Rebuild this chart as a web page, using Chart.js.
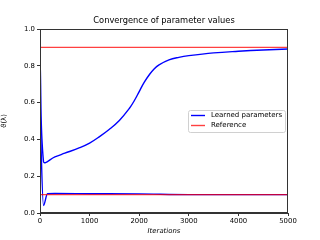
<!DOCTYPE html>
<html>
<head>
<meta charset="utf-8">
<script src="https://cdn.jsdelivr.net/npm/chart.js@4"></script>
<style>
  html, body { margin: 0; padding: 0; background: #fff; }
  #chart { display: block; }
</style>
</head>
<body>
<canvas id="chart" width="320" height="240"></canvas>
<script>
// values
const itersA = [0, 70, 300, 500, 800, 1000, 1200, 1400, 1600, 1800, 1900, 2000, 2100, 2200, 2300, 2400, 2600, 2800, 3000, 3500, 4000, 4500, 5000];
const learnedA = [0.85, 0.28, 0.305, 0.325, 0.355, 0.38, 0.415, 0.455, 0.503, 0.568, 0.61, 0.66, 0.71, 0.75, 0.783, 0.805, 0.832, 0.846, 0.855, 0.87, 0.879, 0.886, 0.891];
const itersB = [0, 70, 150, 300, 1000, 2000, 3000, 4000, 5000];
const learnedB = [0.55, 0.04, 0.105, 0.106, 0.105, 0.104, 0.1, 0.1, 0.1];
const refIters = [0, 5000];
const refHigh = [0.9, 0.9];
const refLow = [0.1, 0.1];
const xTicks = [0, 1000, 2000, 3000, 4000, 5000];
const yTicks = [0, 0.2, 0.4, 0.6, 0.8, 1.0];

const BLUE = '#0000ff';
const RED = 'rgba(255,0,0,0.75)';
const FONT = 'DejaVu Sans';

const pts = (xs, ys) => xs.map((x, i) => ({ x: x, y: ys[i] }));

const line = (label, data, color, order, smooth) => Object.assign({
  label: label,
  data: data,
  borderColor: color,
  borderWidth: 1.4,
  pointRadius: 0,
  fill: false,
  order: order
}, smooth ? { tension: 0.4 } : { cubicInterpolationMode: 'monotone' });

// title, box round the plot and matplotlib-style legend
const frame = {
  id: 'frame',
  afterDraw(chart) {
    const { ctx, chartArea: a } = chart;
    ctx.save();
    ctx.strokeStyle = '#333';
    ctx.lineWidth = 1;
    ctx.strokeRect(a.left + 0.5, a.top + 0.5, a.right - a.left - 1, a.bottom - a.top - 1);

    ctx.fillStyle = '#000';
    ctx.font = '8.3px "' + FONT + '"';
    ctx.textAlign = 'center';
    ctx.textBaseline = 'middle';
    ctx.fillText('Convergence of parameter values', (a.left + a.right) / 2, 21);

    const bx = 188, by = 110, bw = 97, bh = 22;
    ctx.fillStyle = 'rgba(255,255,255,0.8)';
    ctx.strokeStyle = '#d0d0d0';
    ctx.beginPath();
    ctx.roundRect(bx + 0.5, by + 0.5, bw, bh, 2);
    ctx.fill();
    ctx.stroke();

    ctx.font = '7px "' + FONT + '"';
    ctx.textAlign = 'left';
    ctx.fillStyle = '#000';
    [['Learned parameters', BLUE, 115.5], ['Reference', RED, 125.5]].forEach(([t, c, y]) => {
      ctx.strokeStyle = c;
      ctx.lineWidth = 1.4;
      ctx.beginPath();
      ctx.moveTo(191, y);
      ctx.lineTo(205, y);
      ctx.stroke();
      ctx.fillText(t, 211, y);
    });
    ctx.restore();
  }
};

new Chart(document.getElementById('chart'), {
  type: 'line',
  data: {
    datasets: [
      line('Reference', pts(refIters, refHigh), RED, 0, false),
      line('Reference', pts(refIters, refLow), RED, 0, false),
      line('Learned parameters', pts(itersA, learnedA), BLUE, 1, true),
      line('Learned parameters', pts(itersB, learnedB), BLUE, 1, false)
    ]
  },
  options: {
    responsive: false,
    animation: false,
    layout: { padding: { left: 0, right: 32, top: 29, bottom: 5 } },
    plugins: {
      legend: { display: false },
      tooltip: { enabled: false },
      title: { display: false }
    },
    scales: {
      x: {
        type: 'linear',
        min: 0,
        max: 5000,
        afterBuildTicks: s => { s.ticks = xTicks.map(v => ({ value: v })); },
        afterFit: s => { s.height = 22; },
        ticks: {
          color: '#000',
          font: { family: FONT, size: 6.9 },
          padding: 1,
          maxRotation: 0,
          callback: v => String(v)
        },
        grid: { drawOnChartArea: false, tickLength: 3, color: '#333' },
        border: { color: '#333' },
        title: {
          display: true,
          text: 'Iterations',
          color: '#000',
          font: { family: FONT, size: 6.9, style: 'italic' },
          padding: { top: 0, bottom: 0 }
        }
      },
      y: {
        min: 0,
        max: 1,
        afterBuildTicks: s => { s.ticks = yTicks.map(v => ({ value: v })); },
        afterFit: s => { s.width = 40; },
        ticks: {
          color: '#000',
          font: { family: FONT, size: 6.9 },
          padding: 2,
          callback: v => Number(v).toFixed(1)
        },
        grid: { drawOnChartArea: false, tickLength: 3, color: '#333' },
        border: { color: '#333' },
        title: {
          display: true,
          text: 'ϑ(λ)',
          color: '#000',
          font: { family: FONT, size: 6.9 },
          padding: { top: 0, bottom: 2 }
        }
      }
    }
  },
  plugins: [frame]
});
</script>
</body>
</html>
